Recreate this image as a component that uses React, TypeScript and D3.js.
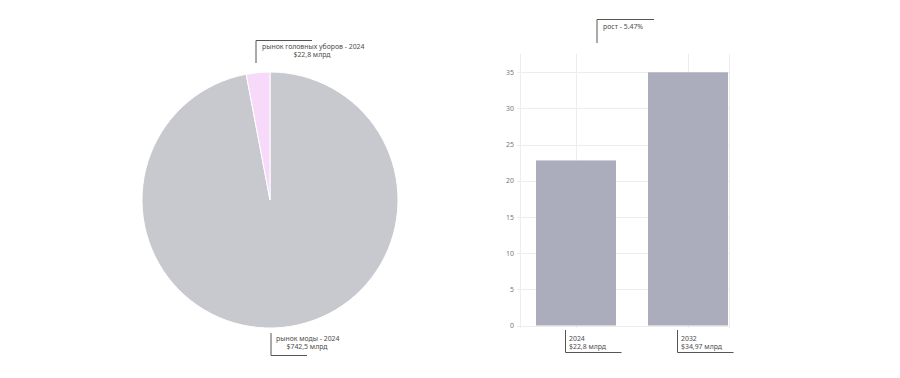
import React from "react";
import * as d3 from "d3";

const pieLabels = ["рынок моды - 2024", "рынок головных уборов - 2024"];
const pieValues = [742.5, 22.8];
const pieValueLabels = ["$742,5 млрд", "$22,8 млрд"];
const pieColors = ["#C8C8CF", "#F7DAFA"];

const barCategories = ["2024", "2032"];
const barValues = [22.8, 34.97];
const barValueLabels = ["$22,8 млрд", "$34,97 млрд"];
const yTicks = [0, 5, 10, 15, 20, 25, 30, 35];
const growthLabel = "рост - 5.47%";

const FONT = "'Noto Sans', 'Open Sans', sans-serif";
const TEXT = "#4d4d4d";
const FS = 6.9;

export default function App() {
  // Pie
  const cx = 270, cy = 200, r = 128;
  const pie = d3.pie<number>().sort(null)(pieValues);
  const arc = d3.arc<d3.PieArcDatum<number>>().innerRadius(0).outerRadius(r);

  // Bars
  const x = d3.scaleBand<string>().domain(barCategories).range([520, 744]).paddingInner(0.2857).paddingOuter(0.1429);
  const y = d3.scaleLinear().domain([0, 37.5]).range([325.5, 54]);
  const plotRight = 729;

  return (
    <svg width={900} height={378} style={{ position: "absolute", left: 0, top: 0, background: "#fff" }} fontFamily={FONT}>
      <g transform={`translate(${cx},${cy})`}>
        {pie.map((d, i) => (
          <path key={i} d={arc(d) || ""} fill={pieColors[i]} stroke="#fff" strokeWidth={1} />
        ))}
      </g>
      {/* top pie callout */}
      <g>
        <line x1={256} y1={40.5} x2={256} y2={63} stroke="#555" strokeWidth={1} />
        <line x1={256} y1={40.5} x2={312} y2={40.5} stroke="#555" strokeWidth={1} />
        <text x={262} y={48.5} fontSize={FS} fill={TEXT}>{pieLabels[1]}</text>
        <text x={312} y={57} fontSize={FS} fill={TEXT} textAnchor="middle">{pieValueLabels[1]}</text>
      </g>
      {/* bottom pie callout */}
      <g>
        <line x1={271} y1={333} x2={271} y2={355.5} stroke="#555" strokeWidth={1} />
        <line x1={271} y1={355.5} x2={307} y2={355.5} stroke="#555" strokeWidth={1} />
        <text x={276} y={340.5} fontSize={FS} fill={TEXT}>{pieLabels[0]}</text>
        <text x={307} y={349} fontSize={FS} fill={TEXT} textAnchor="middle">{pieValueLabels[0]}</text>
      </g>

      {/* bar grid */}
      <g>
        {yTicks.map((t) => (
          <g key={t}>
            <line x1={517} x2={plotRight} y1={Math.round(y(t)) + 0.5} y2={Math.round(y(t)) + 0.5} stroke="#ededed" strokeWidth={1} />
            <text x={514} y={y(t) + 2.6} fontSize={FS} fill="#777" textAnchor="end">{t}</text>
          </g>
        ))}
        {[520, ...barCategories.map((c) => (x(c) as number) + x.bandwidth() / 2), plotRight].map((gx, i) => (
          <line key={i} x1={Math.round(gx) + 0.5} x2={Math.round(gx) + 0.5} y1={54} y2={328} stroke="#ededed" strokeWidth={1} />
        ))}
      </g>
      {barCategories.map((c, i) => (
        <rect key={c} x={x(c)} y={y(barValues[i])} width={x.bandwidth()} height={y(0) - y(barValues[i])} fill="#ABADBC" />
      ))}
      {/* growth callout */}
      <g>
        <line x1={597} y1={19.5} x2={597} y2={43} stroke="#555" strokeWidth={1} />
        <line x1={597} y1={19.5} x2={654} y2={19.5} stroke="#555" strokeWidth={1} />
        <text x={603} y={28.5} fontSize={FS} fill={TEXT}>{growthLabel}</text>
      </g>
      {/* bar bottom callouts */}
      {barCategories.map((c, i) => {
        const lx = Math.round((x(c) as number) + 29) + 0.5;
        return (
          <g key={c}>
            <line x1={lx} y1={330} x2={lx} y2={352.5} stroke="#555" strokeWidth={1} />
            <line x1={lx} y1={352.5} x2={lx + 56} y2={352.5} stroke="#555" strokeWidth={1} />
            <text x={lx + 3.5} y={340.5} fontSize={FS} fill={TEXT}>{c}</text>
            <text x={lx + 3.5} y={349} fontSize={FS} fill={TEXT}>{barValueLabels[i]}</text>
          </g>
        );
      })}
    </svg>
  );
}
